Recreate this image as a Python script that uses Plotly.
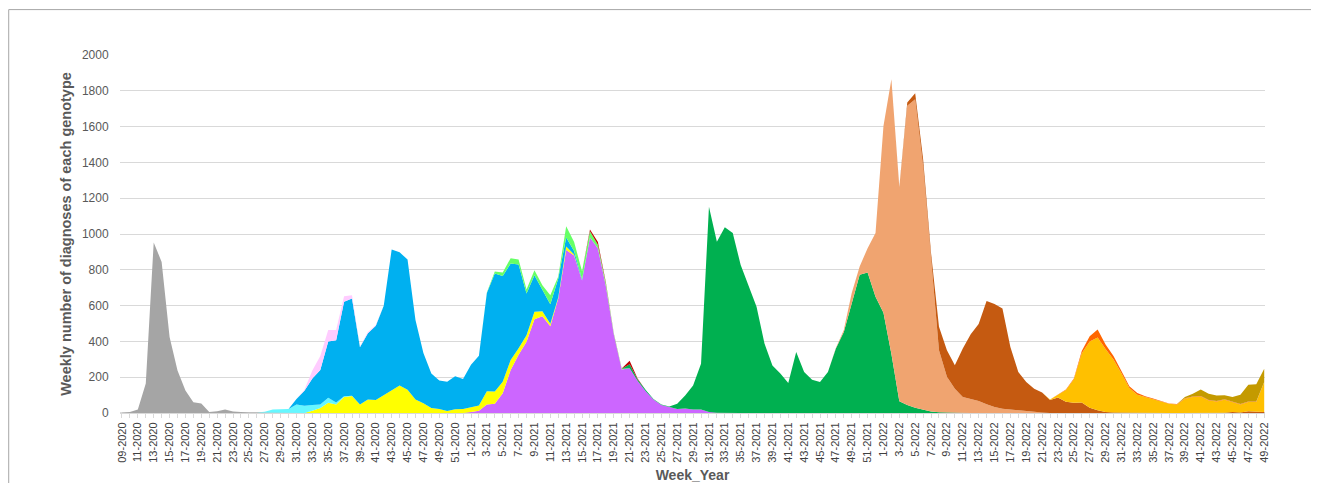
import plotly.graph_objects as go

# ---- categories: weeks shown on the x axis ----
YEAR_WEEKS = [(2020, 9, 52), (2021, 1, 52), (2022, 1, 49)]
weeks = []
for yr, w0, w1 in YEAR_WEEKS:
    for w in range(w0, w1 + 1):
        weeks.append(("%02d" % w if (yr == 2020 and w == 9) else str(w)) + "-" + str(yr))

# ---- series values (start week, then consecutive weekly counts) ----
gray_start = "09-2020"
gray_vals = [2, 5, 20, 165, 953, 844, 424, 238, 126, 60, 53, 5, 10, 20, 8, 4, 3, 3, 2]

purple_start = "1-2021"
purple_vals = [5, 12, 48, 52, 110, 240, 325, 398, 524, 540, 485, 640, 911, 880, 740, 980,
               920, 710, 440, 243, 250, 180, 125, 75, 45, 33, 23, 25, 20, 20, 5, 2]

yellow_start = "33-2020"
yellow_vals = [12, 28, 57, 48, 90, 95, 47, 75, 73, 100, 128, 153, 130, 76, 55, 28, 23, 11, 21, 22,
               27, 30, 74, 68, 65, 56, 37, 36, 42, 28, 13, 6, 19, 5, 2]

cyan_start = "27-2020"
cyan_vals = [5, 20, 22, 22, 47, 40, 32, 20, 28, 10, 3, 2]

blue_start = "31-2020"
blue_vals = [31, 85, 149, 192, 315, 348, 529, 543, 321, 370, 414, 499, 785, 745, 727, 444, 280,
             192, 159, 164, 184, 168,
             238, 278, 548, 660, 590, 539, 468, 233, 204, 118, 109, 105, 50, 20, 5]

pink_start = "32-2020"
pink_vals = [5, 45, 78, 63, 58, 30, 18, 2, 8, 5]

lightgreen_start = "3-2021"
lightgreen_vals = [3, 10, 20, 30, 28, 23, 28, 28, 51, 12, 63, 50, 45, 35, 20, 15, 5, 4]

green_start = "21-2021"
green_vals = [22, 8, 5, 3, 2, 3, 28, 73, 134, 255, 1147, 955, 1038, 1005, 827, 706, 593, 388,
              266, 220, 167, 341, 229, 186, 173, 229, 360, 453, 613, 772, 785, 650,
              560, 330, 65, 45, 30, 17, 8, 4, 2]

red_start = "16-2021"
red_vals = [10, 15, 5, 2, 2, 20, 5]

salmon_start = "47-2021"
salmon_vals = [3, 10, 57, 46, 136, 355,
               1044, 1535, 1193, 1671, 1723, 1362, 848, 347, 200, 136, 90, 80, 67, 49, 34,
               24, 19, 15, 11, 6, 3]

brown_start = "3-2022"
brown_vals = [5, 18, 34, 38, 37, 131, 149, 131, 270, 360, 430, 577, 575, 560, 350, 214, 162,
              129, 112, 72, 86, 63, 57, 59, 30, 16, 6, 3, 2, 1,
              0, 0, 0, 0, 0, 0, 0, 0, 0, 0, 0, 2, 5, 3, 10, 8, 5]

gold_start = "22-2022"
gold_vals = [3, 17, 65, 131, 275, 369, 406, 352, 296, 220, 139, 102, 89, 76, 64, 51, 48, 79,
             89, 92, 70, 64, 72, 56, 45, 52, 54, 168]

orange_start = "23-2022"
orange_vals = [2, 3, 5, 13, 30, 45, 25, 20, 13, 10, 10, 5, 5, 3, 2, 2, 3, 3, 3, 3, 3, 3, 3,
               2, 2, 2, 0]

darkgold_start = "39-2022"
darkgold_vals = [7, 15, 36, 34, 31, 22, 25, 52, 94, 96, 74]

# every week gets a tick mark, every second week gets a label
tick_text = [w if k % 2 == 0 else "" for k, w in enumerate(weeks)]


def full(start, vals):
    out = [0] * len(weeks)
    i0 = weeks.index(start)
    for k, v in enumerate(vals):
        out[i0 + k] = v
    return out


series = [
    ("Genotype (grey)", gray_start, gray_vals, "#A5A5A5"),
    ("Genotype (purple)", purple_start, purple_vals, "#CC66FF"),
    ("Genotype (yellow)", yellow_start, yellow_vals, "#FFFF00"),
    ("Genotype (cyan)", cyan_start, cyan_vals, "#66F7FF"),
    ("Genotype (blue)", blue_start, blue_vals, "#00B0F0"),
    ("Genotype (pink)", pink_start, pink_vals, "#FFCCFF"),
    ("Genotype (light green)", lightgreen_start, lightgreen_vals, "#66FF66"),
    ("Genotype (green)", green_start, green_vals, "#00B050"),
    ("Genotype (red)", red_start, red_vals, "#C00000"),
    ("Genotype (salmon)", salmon_start, salmon_vals, "#F0A470"),
    ("Genotype (brown)", brown_start, brown_vals, "#C55A11"),
    ("Genotype (gold)", gold_start, gold_vals, "#FFC000"),
    ("Genotype (orange)", orange_start, orange_vals, "#FF6600"),
    ("Genotype (dark gold)", darkgold_start, darkgold_vals, "#C49A00"),
]

fig = go.Figure()
for name, st, vals, col in series:
    fig.add_trace(go.Scatter(
        x=weeks, y=full(st, vals), name=name, mode="lines",
        stackgroup="one", line=dict(width=0, color=col), fillcolor=col,
    ))

FONT = "Liberation Sans, Arial, Helvetica, sans-serif"
fig.update_layout(
    width=1319, height=483,
    margin=dict(l=112, r=62, t=47, b=78),
    paper_bgcolor="white", plot_bgcolor="white",
    showlegend=False,
    font=dict(family=FONT, color="#404040"),
    xaxis=dict(
        type="category", categoryorder="array", categoryarray=weeks,
        range=[-0.25, 144.1],
        tickmode="array", tickvals=weeks, ticktext=tick_text,
        tickangle=-90, tickfont=dict(size=11, color="#404040"),
        showgrid=False, showline=True, linecolor="#D9D9D9", linewidth=1,
        ticks="outside", ticklen=4, tickcolor="#D9D9D9",
        automargin=False,
        title=dict(text="<b>Week_Year</b>", font=dict(size=14, color="#595959"), standoff=8),
    ),
    yaxis=dict(
        range=[0, 2000], dtick=200, tick0=0,
        tickfont=dict(size=12, color="#595959"),
        showgrid=True, gridcolor="#D9D9D9", gridwidth=1,
        zeroline=True, zerolinecolor="#D9D9D9",
        ticks="outside", ticklen=8, tickcolor="rgba(0,0,0,0)",
        automargin=False,
        title=dict(text="<b>Weekly number of diagnoses of each genotype</b>",
                   font=dict(size=14.5, color="#595959"), standoff=6),
    ),
    shapes=[dict(type="rect", xref="paper", yref="paper",
                 x0=-0.0972, x1=1.06, y0=-0.3, y1=1.1268,
                 line=dict(color="#A6A6A6", width=1), fillcolor="rgba(0,0,0,0)")],
)

fig.write_html("out.html")
